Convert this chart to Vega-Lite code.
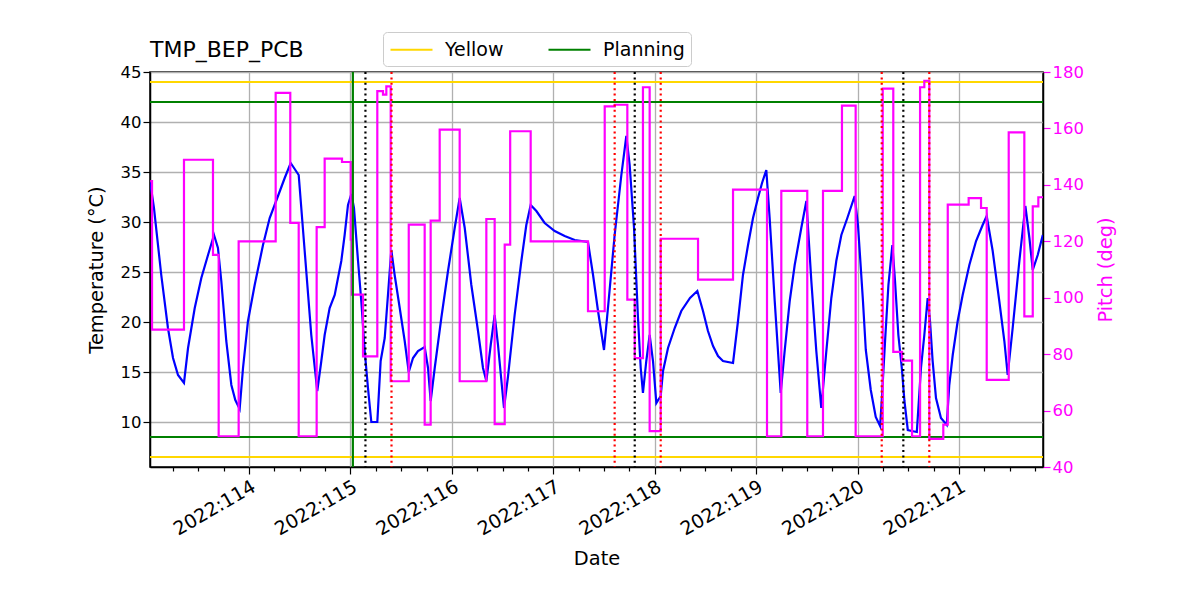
{
  "$schema": "https://vega.github.io/schema/vega-lite/v6.json",
  "width": 893,
  "height": 395,
  "autosize": {"type": "none"},
  "padding": {"left": 150, "top": 72, "right": 157, "bottom": 133},
  "background": "white",
  "config": {
    "font": "DejaVu Sans",
    "view": {"stroke": "black", "strokeWidth": 1.5},
    "axis": {"labelFont": "DejaVu Sans", "titleFont": "DejaVu Sans", "labelFontSize": 16.5, "titleFontSize": 19.4, "titleFontWeight": "normal", "labelColor": "black", "titleColor": "black", "domainColor": "black", "domainWidth": 1.5, "tickColor": "black", "tickWidth": 1.2}
  },
  "title": {"text": "TMP_BEP_PCB", "anchor": "start", "frame": "group", "fontSize": 22, "fontWeight": "normal", "font": "DejaVu Sans", "color": "black", "offset": 10, "dy": 40},
  "datasets": {
    "temp": [
      {"d":113.026,"t":34.0},{"d":113.037,"t":33.2},{"d":113.063,"t":31.4},{"d":113.135,"t":24.7},{"d":113.201,"t":19.4},{"d":113.251,"t":16.4},{"d":113.300,"t":14.7},{"d":113.359,"t":13.9},{"d":113.399,"t":17.4},{"d":113.465,"t":21.4},{"d":113.530,"t":24.4},{"d":113.596,"t":26.7},{"d":113.655,"t":28.7},{"d":113.694,"t":27.4},{"d":113.727,"t":24.1},{"d":113.776,"t":18.1},{"d":113.826,"t":13.7},{"d":113.865,"t":12.2},{"d":113.908,"t":11.3},{"d":113.941,"t":15.4},{"d":113.990,"t":20.1},{"d":114.056,"t":23.7},{"d":114.138,"t":27.7},{"d":114.204,"t":30.4},{"d":114.286,"t":32.6},{"d":114.352,"t":34.4},{"d":114.411,"t":35.9},{"d":114.490,"t":34.7},{"d":114.549,"t":27.1},{"d":114.614,"t":18.7},{"d":114.673,"t":13.1},{"d":114.713,"t":16.1},{"d":114.746,"t":18.7},{"d":114.795,"t":21.4},{"d":114.845,"t":22.7},{"d":114.910,"t":26.1},{"d":114.943,"t":28.7},{"d":114.976,"t":31.7},{"d":115.009,"t":32.8},{"d":115.035,"t":31.4},{"d":115.075,"t":26.1},{"d":115.107,"t":22.1},{"d":115.141,"t":17.1},{"d":115.173,"t":13.4},{"d":115.206,"t":10.0},{"d":115.265,"t":10.0},{"d":115.298,"t":16.1},{"d":115.338,"t":18.4},{"d":115.370,"t":22.7},{"d":115.403,"t":27.2},{"d":115.436,"t":24.7},{"d":115.486,"t":21.4},{"d":115.535,"t":18.1},{"d":115.575,"t":15.0},{"d":115.617,"t":16.4},{"d":115.666,"t":17.1},{"d":115.732,"t":17.5},{"d":115.765,"t":15.4},{"d":115.791,"t":12.1},{"d":115.831,"t":15.4},{"d":115.896,"t":20.4},{"d":115.962,"t":25.1},{"d":116.028,"t":29.4},{"d":116.077,"t":32.4},{"d":116.127,"t":29.4},{"d":116.192,"t":23.7},{"d":116.258,"t":19.1},{"d":116.307,"t":15.4},{"d":116.340,"t":14.1},{"d":116.383,"t":17.7},{"d":116.422,"t":20.7},{"d":116.455,"t":17.7},{"d":116.514,"t":11.4},{"d":116.553,"t":14.5},{"d":116.570,"t":16.1},{"d":116.619,"t":20.7},{"d":116.685,"t":26.1},{"d":116.734,"t":29.7},{"d":116.777,"t":31.7},{"d":116.833,"t":31.1},{"d":116.915,"t":29.9},{"d":117.014,"t":29.1},{"d":117.112,"t":28.6},{"d":117.211,"t":28.2},{"d":117.342,"t":28.0},{"d":117.392,"t":24.7},{"d":117.441,"t":21.1},{"d":117.500,"t":17.2},{"d":117.539,"t":21.4},{"d":117.605,"t":28.7},{"d":117.671,"t":34.7},{"d":117.720,"t":38.6},{"d":117.753,"t":35.7},{"d":117.796,"t":29.4},{"d":117.835,"t":20.4},{"d":117.862,"t":15.4},{"d":117.884,"t":12.9},{"d":117.917,"t":16.1},{"d":117.950,"t":18.7},{"d":117.983,"t":16.1},{"d":118.016,"t":11.9},{"d":118.059,"t":12.6},{"d":118.082,"t":15.1},{"d":118.131,"t":17.4},{"d":118.197,"t":19.4},{"d":118.262,"t":21.1},{"d":118.348,"t":22.4},{"d":118.420,"t":23.1},{"d":118.476,"t":21.1},{"d":118.525,"t":19.1},{"d":118.575,"t":17.6},{"d":118.624,"t":16.6},{"d":118.673,"t":16.1},{"d":118.772,"t":15.9},{"d":118.821,"t":20.1},{"d":118.870,"t":24.7},{"d":118.920,"t":27.7},{"d":118.969,"t":30.4},{"d":119.018,"t":32.4},{"d":119.058,"t":33.9},{"d":119.100,"t":35.2},{"d":119.133,"t":30.4},{"d":119.183,"t":22.1},{"d":119.242,"t":12.9},{"d":119.281,"t":17.1},{"d":119.331,"t":22.1},{"d":119.380,"t":25.7},{"d":119.445,"t":29.4},{"d":119.495,"t":32.1},{"d":119.544,"t":24.1},{"d":119.593,"t":17.1},{"d":119.642,"t":11.4},{"d":119.692,"t":17.1},{"d":119.741,"t":22.4},{"d":119.790,"t":26.1},{"d":119.840,"t":28.7},{"d":119.899,"t":30.4},{"d":119.971,"t":32.6},{"d":120.004,"t":29.7},{"d":120.053,"t":22.1},{"d":120.081,"t":17.2},{"d":120.130,"t":13.2},{"d":120.179,"t":10.5},{"d":120.222,"t":9.6},{"d":120.238,"t":12.1},{"d":120.271,"t":18.1},{"d":120.304,"t":23.7},{"d":120.343,"t":27.7},{"d":120.369,"t":24.1},{"d":120.402,"t":18.7},{"d":120.436,"t":15.4},{"d":120.462,"t":12.1},{"d":120.495,"t":9.2},{"d":120.535,"t":9.1},{"d":120.584,"t":9.0},{"d":120.625,"t":15.4},{"d":120.658,"t":18.7},{"d":120.691,"t":22.4},{"d":120.714,"t":20.1},{"d":120.740,"t":16.1},{"d":120.773,"t":12.4},{"d":120.822,"t":10.4},{"d":120.879,"t":9.7},{"d":120.904,"t":13.7},{"d":120.938,"t":16.7},{"d":120.987,"t":20.1},{"d":121.036,"t":22.7},{"d":121.102,"t":25.7},{"d":121.168,"t":28.1},{"d":121.233,"t":29.7},{"d":121.273,"t":30.6},{"d":121.332,"t":27.1},{"d":121.397,"t":22.1},{"d":121.447,"t":18.1},{"d":121.480,"t":14.7},{"d":121.529,"t":19.4},{"d":121.595,"t":26.1},{"d":121.654,"t":31.6},{"d":121.694,"t":28.4},{"d":121.727,"t":25.2},{"d":121.776,"t":26.7},{"d":121.826,"t":28.7}
    ],
    "pitch": [
      {"d":113.026,"p":141.3},{"d":113.044,"p":88.7},{"d":113.359,"p":148.9},{"d":113.645,"p":115.2},{"d":113.701,"p":50.9},{"d":113.898,"p":120.0},{"d":114.263,"p":172.6},{"d":114.407,"p":126.5},{"d":114.490,"p":50.9},{"d":114.667,"p":125.0},{"d":114.746,"p":149.3},{"d":114.917,"p":148.1},{"d":115.003,"p":120.6},{"d":115.015,"p":101.1},{"d":115.124,"p":79.2},{"d":115.265,"p":173.2},{"d":115.321,"p":172.0},{"d":115.354,"p":174.9},{"d":115.397,"p":70.4},{"d":115.575,"p":125.9},{"d":115.732,"p":55.0},{"d":115.791,"p":127.3},{"d":115.880,"p":159.6},{"d":116.077,"p":70.4},{"d":116.340,"p":127.9},{"d":116.422,"p":55.2},{"d":116.521,"p":118.8},{"d":116.575,"p":159.0},{"d":116.777,"p":120.0},{"d":117.342,"p":95.2},{"d":117.507,"p":167.8},{"d":117.606,"p":168.4},{"d":117.730,"p":99.3},{"d":117.803,"p":78.6},{"d":117.884,"p":174.6},{"d":117.950,"p":52.7},{"d":118.059,"p":120.9},{"d":118.427,"p":106.4},{"d":118.772,"p":138.3},{"d":119.107,"p":50.9},{"d":119.248,"p":137.9},{"d":119.504,"p":50.9},{"d":119.659,"p":137.9},{"d":119.846,"p":168.1},{"d":119.981,"p":50.9},{"d":120.248,"p":174.1},{"d":120.352,"p":80.8},{"d":120.438,"p":77.7},{"d":120.537,"p":50.9},{"d":120.616,"p":174.6},{"d":120.658,"p":176.9},{"d":120.707,"p":50.0},{"d":120.845,"p":55.0},{"d":120.889,"p":133.0},{"d":121.095,"p":135.3},{"d":121.217,"p":131.8},{"d":121.273,"p":70.9},{"d":121.490,"p":158.6},{"d":121.644,"p":93.4},{"d":121.727,"p":132.4},{"d":121.782,"p":135.6},{"d":121.828,"p":135.6}
    ],
    "limits": [
      {"level": 44, "kind": "Yellow"}, {"level": 6.5, "kind": "Yellow"},
      {"level": 42, "kind": "Planning"}, {"level": 8.5, "kind": "Planning"}
    ],
    "vgreen": [{"d": 115.024}],
    "vblack": [{"d": 115.148}, {"d": 117.803}, {"d": 120.451}],
    "vred": [{"d": 115.405}, {"d": 117.605}, {"d": 118.059}, {"d": 120.238}, {"d": 120.707}]
  },
  "layer": [
    {
      "layer": [
        {
          "data": {"name": "temp"},
          "mark": {"type": "line", "color": "#0000ff", "strokeWidth": 2.2, "clip": true},
          "encoding": {
            "x": {
              "field": "d", "type": "quantitative", "title": "Date",
              "scale": {"domain": [113.024, 121.828], "zero": false, "nice": false},
              "axis": {
                "orient": "bottom",
                "values": [113.25,113.5,113.75,114,114.25,114.5,114.75,115,115.25,115.5,115.75,116,116.25,116.5,116.75,117,117.25,117.5,117.75,118,118.25,118.5,118.75,119,119.25,119.5,119.75,120,120.25,120.5,120.75,121,121.25,121.5,121.75],
                "labelExpr": "datum.value % 1 === 0 ? '2022:' + datum.value : ''",
                "labelAngle": -30, "labelAlign": "right", "labelBaseline": "top", "labelFontSize": 19,
                "labelPadding": 3, "labelOverlap": false, "labelFlush": false, "labelBound": false,
                "tickSize": 7,
                "tickDash": {"condition": {"test": "datum.value % 1 !== 0", "value": [4, 20]}, "value": [20, 0]},
                "grid": true, "gridColor": "#b0b0b0", "gridWidth": 1.3,
                "gridOpacity": {"condition": {"test": "datum.value % 1 === 0", "value": 1}, "value": 0},
                "titlePadding": 11
              }
            },
            "y": {
              "field": "t", "type": "quantitative", "title": "Temperature (°C)",
              "scale": {"domain": [5.5, 45], "zero": false, "nice": false},
              "axis": {"values": [10,15,20,25,30,35,40,45], "grid": true, "gridColor": "#b0b0b0", "gridWidth": 1.3, "tickSize": 7, "titlePadding": 14}
            }
          }
        },
        {
          "data": {"name": "limits"},
          "mark": {"type": "rule", "strokeWidth": 2.2},
          "encoding": {
            "y": {"field": "level", "type": "quantitative"},
            "color": {
              "field": "kind", "type": "nominal",
              "scale": {"domain": ["Yellow", "Planning"], "range": ["#ffd700", "#008000"]},
              "legend": {
                "orient": "none", "legendX": 233, "legendY": -40, "direction": "horizontal",
                "title": null, "symbolType": "M-2.1,0H2.1", "symbolSize": 400, "symbolStrokeWidth": 2.2, "symbolOffset": 11,
                "labelFontSize": 19, "labelFont": "DejaVu Sans", "labelColor": "black",
                "fillColor": "white", "strokeColor": "#cccccc", "cornerRadius": 4, "padding": 6,
                "columnPadding": 40, "labelOffset": 22
              }
            }
          }
        }
      ]
    },
    {
      "data": {"name": "pitch"},
      "mark": {"type": "line", "color": "#ff00ff", "strokeWidth": 2.2, "interpolate": "step-after", "clip": true},
      "encoding": {
        "x": {"field": "d", "type": "quantitative", "axis": null},
        "y": {
          "field": "p", "type": "quantitative", "title": "Pitch (deg)",
          "scale": {"domain": [40, 180], "zero": false, "nice": false},
          "axis": {"orient": "right", "values": [40,60,80,100,120,140,160,180], "grid": false, "tickSize": 7, "tickColor": "#ff00ff", "labelColor": "#ff00ff", "titleColor": "#ff00ff", "titlePadding": 32, "titleAngle": 270}
        }
      }
    },
    {
      "data": {"name": "vgreen"},
      "mark": {"type": "rule", "color": "#008000", "strokeWidth": 2.2},
      "encoding": {"x": {"field": "d", "type": "quantitative", "axis": null}}
    },
    {
      "data": {"name": "vblack"},
      "mark": {"type": "rule", "color": "black", "strokeWidth": 2.2, "strokeDash": [2, 3.4]},
      "encoding": {"x": {"field": "d", "type": "quantitative", "axis": null}}
    },
    {
      "data": {"name": "vred"},
      "mark": {"type": "rule", "color": "#ff0000", "strokeWidth": 2.2, "strokeDash": [2, 3.4]},
      "encoding": {"x": {"field": "d", "type": "quantitative", "axis": null}}
    }
  ],
  "resolve": {"scale": {"y": "independent"}, "axis": {"x": "independent"}}
}
